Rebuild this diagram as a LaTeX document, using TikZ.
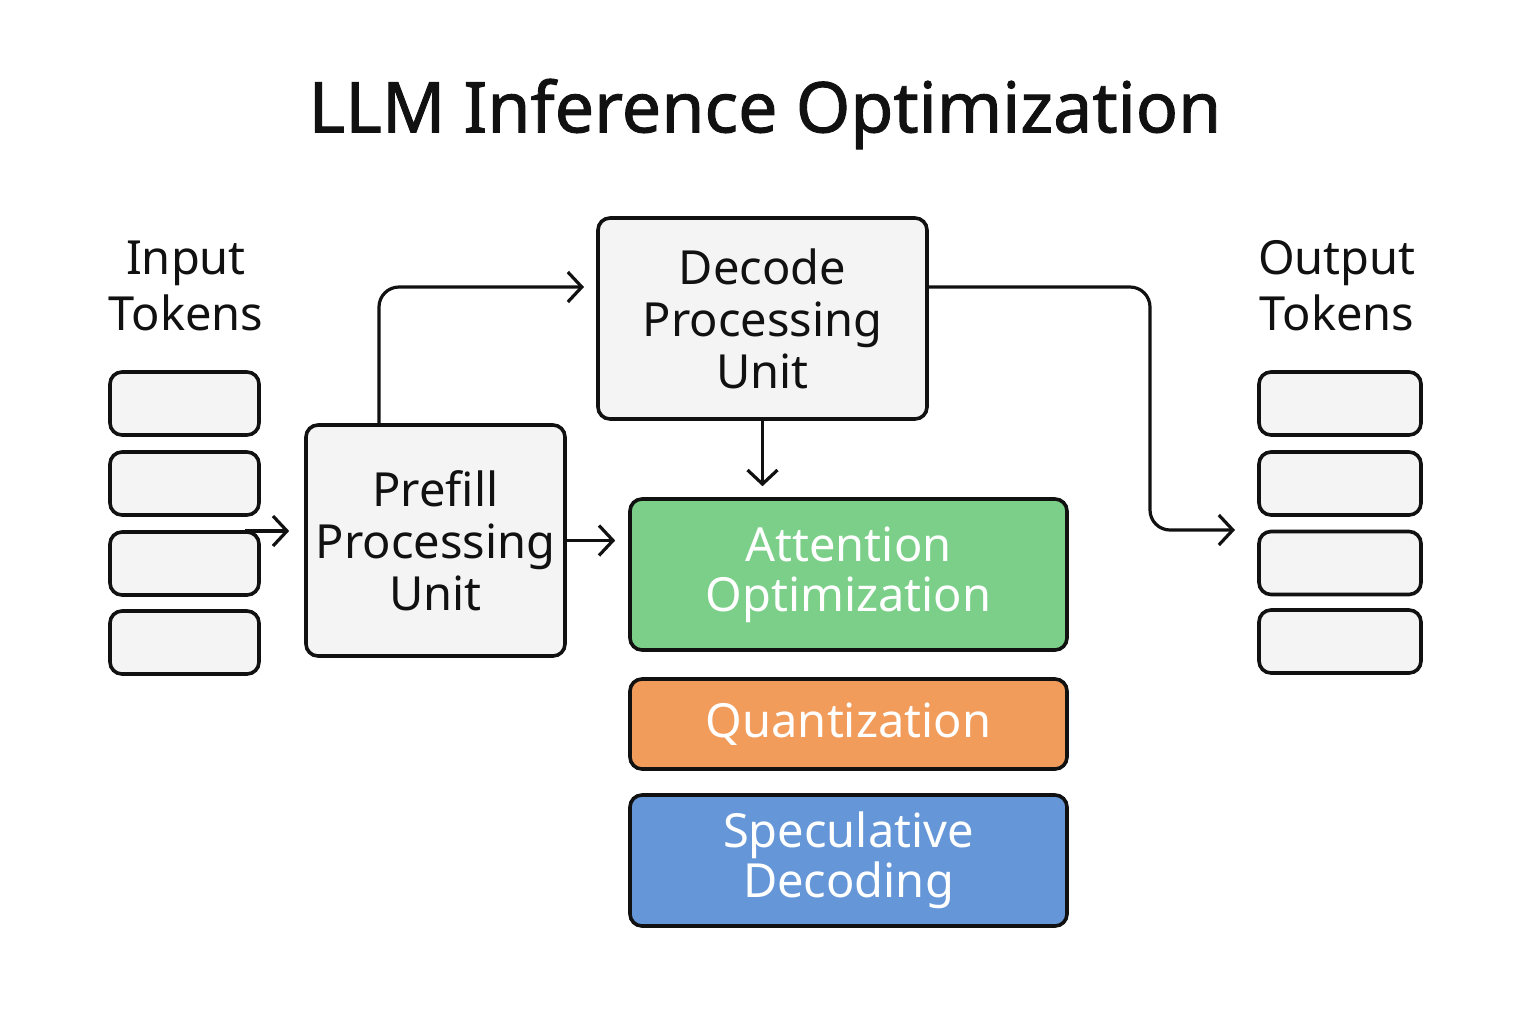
\documentclass[tikz,border=0pt]{standalone}
\usepackage{fontspec}
\setmainfont{Noto Sans}
\newfontfamily\titlefont[FakeBold=1.3]{Noto Sans}
\usetikzlibrary{arrows.meta}
\definecolor{boxgray}{HTML}{F4F4F4}
\definecolor{attgreen}{HTML}{7BCF88}
\definecolor{quantorange}{HTML}{F29C5C}
\definecolor{specblue}{HTML}{6496D8}
\definecolor{ink}{HTML}{111111}
\tikzset{
  graybox/.style={draw=ink, line width=1.8pt, fill=boxgray, rounded corners=6pt, inner sep=0pt, align=center, font=\fontsize{23.5}{26}\selectfont, text=ink},
  tokbox/.style={graybox, minimum height=31.5pt},
  colbox/.style={draw=ink, line width=1.8pt, rounded corners=6pt, inner sep=0pt, align=center, minimum width=218.5pt, font=\fontsize{23.5}{25}\selectfont, text=white},
  lbl/.style={align=center, font=\fontsize{23.5}{28}\selectfont, text=ink},
  conn/.style={draw=ink, line width=1.6pt, -{Straight Barb[length=7pt, width=15pt, line width=1.6pt]}},
}
\begin{document}
\begin{tikzpicture}[x=0.5pt, y=-0.5pt]
\useasboundingbox (0,0) rectangle (1536,1024);
\node[font=\titlefont\fontsize{35}{40}\selectfont, text=ink] (title) at (765,114) {LLM Inference Optimization};
% input tokens
\node[lbl] (inlbl) at (186,286) {Input\\Tokens};
\node[tokbox, minimum width=74.5pt] (in1) at (184.5,403.5) {};
\node[tokbox, minimum width=74.5pt] (in2) at (184.5,483.5) {};
\node[tokbox, minimum width=74.5pt] (in3) at (184.5,563.5) {};
\node[tokbox, minimum width=74.5pt] (in4) at (184.5,642.5) {};
% output tokens
\node[lbl] (outlbl) at (1337,286) {Output\\Tokens};
\node[tokbox, minimum width=81pt] (out1) at (1340,403.5) {};
\node[tokbox, minimum width=81pt] (out2) at (1340,483.5) {};
\node[tokbox, minimum width=81pt] (out3) at (1340,563) {};
\node[tokbox, minimum width=81pt] (out4) at (1340,641.5) {};
% units
\node[graybox, minimum width=129.5pt, minimum height=115.5pt] (pre) at (435.5,540.5) {Prefill\\Processing\\Unit};
\node[graybox, minimum width=164.5pt, minimum height=100.5pt] (dec) at (762.5,318.5) {Decode\\Processing\\Unit};
\node[colbox, fill=attgreen, minimum height=75.5pt] (att) at (848.5,574.5) {Attention\\Optimization};
\node[colbox, fill=quantorange, minimum height=45pt] (quant) at (848.5,724) {Quantization};
\node[colbox, fill=specblue, minimum height=65.5pt] (spec) at (848.5,860.5) {Speculative\\Decoding};
% connectors
\coordinate (inStart) at (245,531);
\draw[conn, shorten >=7.5pt] (inStart) -- (inStart -| pre.west);
\draw[conn, shorten >=6.5pt] (pre.east) -- (pre.east -| att.west);
\coordinate (preTop) at (379,425);
\coordinate (decIn) at (598,287);
\draw[conn, rounded corners=10pt, shorten >=7pt] (preTop) |- (decIn);
\draw[conn, shorten >=5.5pt] (dec.south) -- (dec.south |- att.north);
\coordinate (decOut) at (927,287);
\coordinate (bend) at (1150,287);
\coordinate (outIn) at (1259,530);
\draw[conn, rounded corners=10pt, shorten >=12pt] (decOut) -| (bend |- outIn) -- (outIn);
\end{tikzpicture}
\end{document}
